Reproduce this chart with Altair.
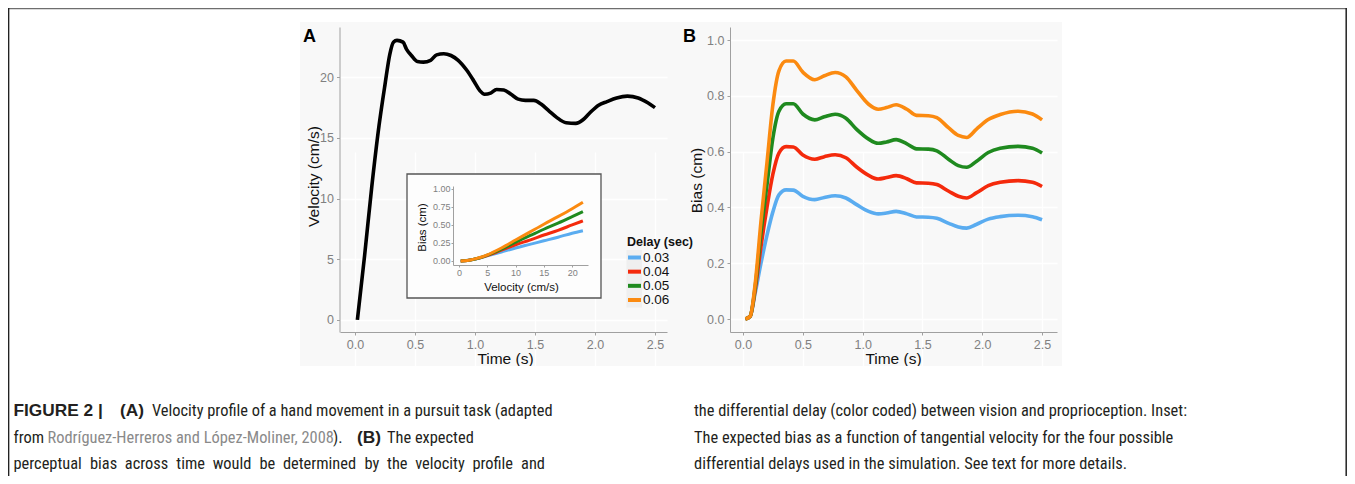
import altair as alt
import pandas as pd

# ---------------- data ----------------
time_a = [0.02, 0.08, 0.14, 0.20, 0.25, 0.29, 0.32, 0.35, 0.40, 0.43, 0.47, 0.52, 0.57, 0.63, 0.68,
          0.74, 0.80, 0.86, 0.93, 0.99, 1.04, 1.08, 1.13, 1.18, 1.24, 1.30, 1.36, 1.42, 1.49, 1.55,
          1.62, 1.68, 1.76, 1.84, 1.90, 1.95, 2.03, 2.10, 2.18, 2.27, 2.36, 2.44, 2.50]
velocity_a = [0.0, 5.3, 11.0, 16.0, 19.4, 21.9, 22.9, 23.05, 22.9, 22.3, 21.8, 21.3, 21.25, 21.4, 21.85,
              21.95, 21.8, 21.4, 20.6, 19.7, 18.9, 18.6, 18.7, 19.0, 18.95, 18.6, 18.2, 18.1, 18.1, 17.8,
              17.2, 16.7, 16.25, 16.2, 16.5, 17.0, 17.7, 18.0, 18.3, 18.45, 18.3, 17.9, 17.5]

time_b = [0.02, 0.06, 0.10, 0.15, 0.20, 0.25, 0.30, 0.36, 0.42, 0.50, 0.60, 0.68, 0.77, 0.86, 0.95, 1.05,
          1.13, 1.20, 1.28, 1.37, 1.45, 1.55, 1.62, 1.72, 1.80, 1.87, 1.95, 2.05, 2.15, 2.30, 2.42, 2.50]
bias_003 = [0.0, 0.01, 0.09, 0.20, 0.30, 0.385, 0.445, 0.463, 0.462, 0.44, 0.428, 0.436, 0.442, 0.434, 0.41, 0.386,
            0.377, 0.38, 0.386, 0.377, 0.366, 0.365, 0.361, 0.343, 0.33, 0.326, 0.339, 0.358, 0.367, 0.372, 0.367, 0.356]
bias_004 = [0.0, 0.01, 0.10, 0.26, 0.40, 0.52, 0.595, 0.618, 0.617, 0.588, 0.573, 0.582, 0.589, 0.578, 0.545, 0.515,
            0.502, 0.507, 0.514, 0.503, 0.488, 0.487, 0.482, 0.458, 0.44, 0.434, 0.452, 0.478, 0.49, 0.496, 0.49, 0.475]
bias_005 = [0.0, 0.01, 0.11, 0.31, 0.48, 0.65, 0.745, 0.772, 0.772, 0.735, 0.714, 0.725, 0.734, 0.72, 0.68, 0.645,
            0.63, 0.635, 0.643, 0.628, 0.61, 0.609, 0.603, 0.572, 0.55, 0.544, 0.565, 0.597, 0.612, 0.619, 0.612, 0.595]
bias_006 = [0.0, 0.01, 0.12, 0.35, 0.56, 0.77, 0.89, 0.925, 0.925, 0.885, 0.858, 0.872, 0.884, 0.868, 0.82, 0.77,
            0.752, 0.758, 0.768, 0.752, 0.73, 0.729, 0.722, 0.685, 0.658, 0.651, 0.68, 0.715, 0.733, 0.745, 0.735, 0.714]

velocity_inset = [0.3, 1, 2, 3, 4, 5, 7.5, 10, 12.5, 15, 17.5, 20, 21.9]
inset_003 = [0.0, 0.003, 0.012, 0.027, 0.047, 0.07, 0.125, 0.18, 0.23, 0.28, 0.33, 0.385, 0.42]
inset_004 = [0.0, 0.003, 0.013, 0.030, 0.050, 0.075, 0.15, 0.225, 0.29, 0.36, 0.425, 0.50, 0.556]
inset_005 = [0.0, 0.003, 0.013, 0.030, 0.052, 0.080, 0.165, 0.26, 0.35, 0.44, 0.525, 0.615, 0.685]
inset_006 = [0.0, 0.003, 0.014, 0.032, 0.055, 0.085, 0.18, 0.29, 0.40, 0.51, 0.615, 0.725, 0.815]

delays = ["0.03", "0.04", "0.05", "0.06"]
delay_colors = ["#5aacf0", "#f42a0c", "#1f8a1f", "#fb8a10"]

ticks_a_x = [0, 0.5, 1.0, 1.5, 2.0, 2.5]
ticks_a_y = [0, 5, 10, 15, 20]
ticks_b_y = [0, 0.2, 0.4, 0.6, 0.8, 1.0]
ticks_inset_x = [0, 5, 10, 15, 20]
ticks_inset_y = [0, 0.25, 0.5, 0.75, 1.0]

DARK = "#231f20"
LINK = "#8a8a8a"
caption = [
    # text, x, y (page px, baseline), weight, color, align
    ("FIGURE 2 |", 13.5, 416, "bold", DARK, "left"),
    ("(A)", 120, 416, "bold", DARK, "left"),
    ("Velocity profile of a hand movement in a pursuit task (adapted", 152, 416, "normal", DARK, "left"),
    ("from", 13.5, 442.5, "normal", DARK, "left"),
    ("Rodríguez-Herreros and López-Moliner, 2008", 47.5, 442.5, "normal", LINK, "left"),
    (").", 333, 442.5, "normal", DARK, "left"),
    ("(B)", 357, 442.5, "bold", DARK, "left"),
    ("The expected", 387, 442.5, "normal", DARK, "left"),
    # justified third line of the left column, word by word
    ("perceptual", 13.5, 468.5, "normal", DARK, "left"),
    ("bias", 90.0, 468.5, "normal", DARK, "left"),
    ("across", 124.8, 468.5, "normal", DARK, "left"),
    ("time", 176.3, 468.5, "normal", DARK, "left"),
    ("would", 212.7, 468.5, "normal", DARK, "left"),
    ("be", 259.4, 468.5, "normal", DARK, "left"),
    ("determined", 282.9, 468.5, "normal", DARK, "left"),
    ("by", 364.4, 468.5, "normal", DARK, "left"),
    ("the", 387.1, 468.5, "normal", DARK, "left"),
    ("velocity", 415.2, 468.5, "normal", DARK, "left"),
    ("profile", 472.4, 468.5, "normal", DARK, "left"),
    ("and", 545, 468.5, "normal", DARK, "right"),
    ("the differential delay (color coded) between vision and proprioception. Inset:", 694, 416, "normal", DARK, "left"),
    ("The expected bias as a function of tangential velocity for the four possible", 694, 442.5, "normal", DARK, "left"),
    ("differential delays used in the simulation. See text for more details.", 694, 468.5, "normal", DARK, "left"),
]

# ---------------- layout helpers ----------------
W, H = 1339, 468
def cx(px):
    return px - 8
def cy(py):
    return py - 8

FONT = "Liberation Sans"
CAP_FONT = "Liberation Sans Narrow, Roboto Condensed, Liberation Sans"
AXIS_GRAY = "#a0a0a0"
LABEL_GRAY = "#808080"
BG = "#f8f8f8"

one = pd.DataFrame({"k": [0]})


def axis(**kw):
    d = dict(labelColor=LABEL_GRAY, labelFont=FONT, tickColor=AXIS_GRAY, domainColor=AXIS_GRAY,
             titleFont=FONT, titleColor="#111111", titleFontWeight="normal", tickSize=3,
             domainWidth=1, tickWidth=1)
    d.update(kw)
    return alt.Axis(**d)


color_scale = alt.Scale(domain=delays, range=delay_colors)

# ---------------- panel A ----------------
dfA = pd.DataFrame({"time": time_a, "velocity": velocity_a})
scale_ax = alt.Scale(domain=[-0.125, 2.6], range=[cx(340), cx(667)], nice=False, zero=False)
scale_ay = alt.Scale(domain=[-1.0, 24.15], range=[cy(332), cy(27)], nice=False, zero=False)

lineA = alt.Chart(dfA).mark_line(color="black", strokeWidth=3.6, interpolate="monotone").encode(
    x=alt.X("time:Q", scale=scale_ax,
            axis=axis(orient="bottom", offset=cy(332) - H, values=ticks_a_x, format=".1f",
                      labelFontSize=12.5, labelPadding=3, grid=True, gridColor="white", gridWidth=1.3,
                      title="Time (s)", titleFontSize=15.5, titleX=cx(505), titleY=31,
                      titleAlign="center", titleBaseline="alphabetic", zindex=0)),
    y=alt.Y("velocity:Q", scale=scale_ay,
            axis=axis(orient="left", offset=-cx(339.5), values=ticks_a_y, format="d",
                      labelFontSize=12.5, labelPadding=3, grid=True, gridColor="white", gridWidth=1.3,
                      title="Velocity (cm/s)", titleFontSize=15.5, titleX=313 - 339.5, titleY=cy(176),
                      titleAngle=270, titleAlign="center", titleBaseline="middle", zindex=0)),
)

# ---------------- inset ----------------
inset_rows = []
for d, vals in zip(delays, [inset_003, inset_004, inset_005, inset_006]):
    for v, b in zip(velocity_inset, vals):
        inset_rows.append({"v": v, "bias": b, "delay": d})
dfI = pd.DataFrame(inset_rows)

inset_box = alt.Chart(one).mark_rect(fill="#fdfdfd", stroke="#555555", strokeWidth=1.3).encode(
    x=alt.value(cx(407)), x2=alt.value(cx(601)), y=alt.value(cy(174)), y2=alt.value(cy(298)))

scale_ix = alt.Scale(domain=[-1.06, 22.8], range=[cx(453), cx(588)], nice=False, zero=False)
scale_iy = alt.Scale(domain=[-0.056, 1.04], range=[cy(265), cy(186)], nice=False, zero=False)
lineI = alt.Chart(dfI).mark_line(strokeWidth=3, interpolate="monotone").encode(
    x=alt.X("v:Q", scale=scale_ix,
            axis=axis(orient="bottom", offset=cy(265) - H, values=ticks_inset_x, format="d",
                      labelFontSize=9, labelPadding=1, grid=False, tickSize=2,
                      title="Velocity (cm/s)", titleFontSize=11.5, titleX=cx(521), titleY=25,
                      titleAlign="center", titleBaseline="alphabetic", zindex=2)),
    y=alt.Y("bias:Q", scale=scale_iy,
            axis=axis(orient="left", offset=-cx(453), values=ticks_inset_y, format=".2f",
                      labelFontSize=9, labelPadding=1, grid=False, tickSize=2,
                      title="Bias (cm)", titleFontSize=11.5, titleX=422 - 453, titleY=cy(227),
                      titleAngle=270, titleAlign="center", titleBaseline="middle", zindex=2)),
    color=alt.Color("delay:N", scale=color_scale, legend=None),
    detail="delay:N",
)

# ---------------- legend (drawn from the delay list) ----------------
dfL = pd.DataFrame({"delay": delays})
legend_y = alt.Y("delay:N", scale=alt.Scale(type="point", domain=delays, range=[cy(257.5), cy(300)], padding=0),
                 axis=None)
legend_keys_bg = alt.Chart(one).mark_rect(fill="#efefef").encode(
    x=alt.value(cx(626.5)), x2=alt.value(cx(642)), y=alt.value(cy(250)), y2=alt.value(cy(307.5)))
legend_symbols = alt.Chart(dfL).mark_rule(strokeWidth=4).encode(
    x=alt.value(cx(628)), x2=alt.value(cx(641)), y=legend_y,
    color=alt.Color("delay:N", scale=color_scale, legend=None))
legend_labels = alt.Chart(dfL).mark_text(font=FONT, fontSize=13.5, align="left", baseline="middle",
                                         color="#111111").encode(
    x=alt.value(cx(643)), y=legend_y, text="delay:N")
legend_title = alt.Chart(one).mark_text(text="Delay (sec)", font=FONT, fontSize=12.5, fontWeight="bold",
                                        align="left", baseline="middle", color="#111111").encode(
    x=alt.value(cx(627)), y=alt.value(cy(241.5)))

# ---------------- panel B ----------------
rows_b = []
for d, vals in zip(delays, [bias_003, bias_004, bias_005, bias_006]):
    for t, b in zip(time_b, vals):
        rows_b.append({"time": t, "bias": b, "delay": d})
dfB = pd.DataFrame(rows_b)

scale_bx = alt.Scale(domain=[-0.109, 2.625], range=[cx(730), cx(1057)], nice=False, zero=False)
scale_by = alt.Scale(domain=[-0.0466, 1.047], range=[cy(332), cy(27)], nice=False, zero=False)
lineB = alt.Chart(dfB).mark_line(strokeWidth=3.6, interpolate="monotone").encode(
    x=alt.X("time:Q", scale=scale_bx,
            axis=axis(orient="bottom", offset=cy(332) - H, values=ticks_a_x, format=".1f",
                      labelFontSize=12.5, labelPadding=3, grid=True, gridColor="white", gridWidth=1.3,
                      title="Time (s)", titleFontSize=15.5, titleX=cx(893), titleY=31,
                      titleAlign="center", titleBaseline="alphabetic", zindex=0)),
    y=alt.Y("bias:Q", scale=scale_by,
            axis=axis(orient="left", offset=-cx(730), values=ticks_b_y, format=".1f",
                      labelFontSize=12.5, labelPadding=3, grid=True, gridColor="white", gridWidth=1.3,
                      title="Bias (cm)", titleFontSize=15.5, titleX=696 - 730, titleY=cy(180),
                      titleAngle=270, titleAlign="center", titleBaseline="middle", zindex=0)),
    color=alt.Color("delay:N", scale=color_scale, legend=None),
    detail="delay:N",
)

# ---------------- page furniture ----------------
def white_rect(x0, x1, y0, y1):
    return alt.Chart(one).mark_rect(fill="white", stroke=None).encode(
        x=alt.value(cx(x0)), x2=alt.value(cx(x1)), y=alt.value(cy(y0)), y2=alt.value(cy(y1)))

covers = [
    white_rect(8, 300, 8, 484),
    white_rect(1062, 1356, 8, 484),
    white_rect(8, 1356, 8, 22),
    white_rect(8, 1356, 366, 484),
]

frame_top = alt.Chart(one).mark_rule(color="#6e6e6e", strokeWidth=1.5).encode(
    x=alt.value(0), x2=alt.value(W), y=alt.value(0.6))
frame_left = alt.Chart(one).mark_rule(color="#222222", strokeWidth=1.5).encode(
    x=alt.value(0.6), y=alt.value(0), y2=alt.value(H))
frame_right = alt.Chart(one).mark_rule(color="#222222", strokeWidth=1.5).encode(
    x=alt.value(W - 0.8), y=alt.value(0), y2=alt.value(H))

label_a = alt.Chart(one).mark_text(text="A", font=FONT, fontSize=18, fontWeight="bold",
                                   align="left", baseline="alphabetic", color="black").encode(
    x=alt.value(cx(303)), y=alt.value(cy(42)))
label_b = alt.Chart(one).mark_text(text="B", font=FONT, fontSize=18, fontWeight="bold",
                                   align="left", baseline="alphabetic", color="black").encode(
    x=alt.value(cx(683)), y=alt.value(cy(42)))

cap_df = pd.DataFrame(caption, columns=["text", "px", "py", "weight", "color", "align"])
cap_df["x"] = cap_df["px"] - 8
cap_df["y"] = cap_df["py"] - 8
cap_layers = []
for (w, a), sub in cap_df.groupby(["weight", "align"]):
    cap_layers.append(
        alt.Chart(sub).mark_text(
            font=(FONT if w == "bold" else CAP_FONT), fontSize=(17.3 if w == "bold" else 16.4),
            fontWeight=w, align=a, baseline="alphabetic").encode(
            x=alt.X("x:Q", scale=None), y=alt.Y("y:Q", scale=None),
            text="text:N", color=alt.Color("color:N", scale=None))
    )

chart = alt.layer(
    lineA, inset_box, lineI, lineB, *covers, legend_keys_bg, legend_symbols, legend_labels, legend_title,
    frame_top, frame_left, frame_right, label_a, label_b, *cap_layers
).resolve_scale(x="independent", y="independent").properties(
    width=W, height=H, padding=0, autosize="none", background=BG
).configure_view(stroke=None)

chart.save("out.html", embed_options={"renderer": "svg", "actions": False})
